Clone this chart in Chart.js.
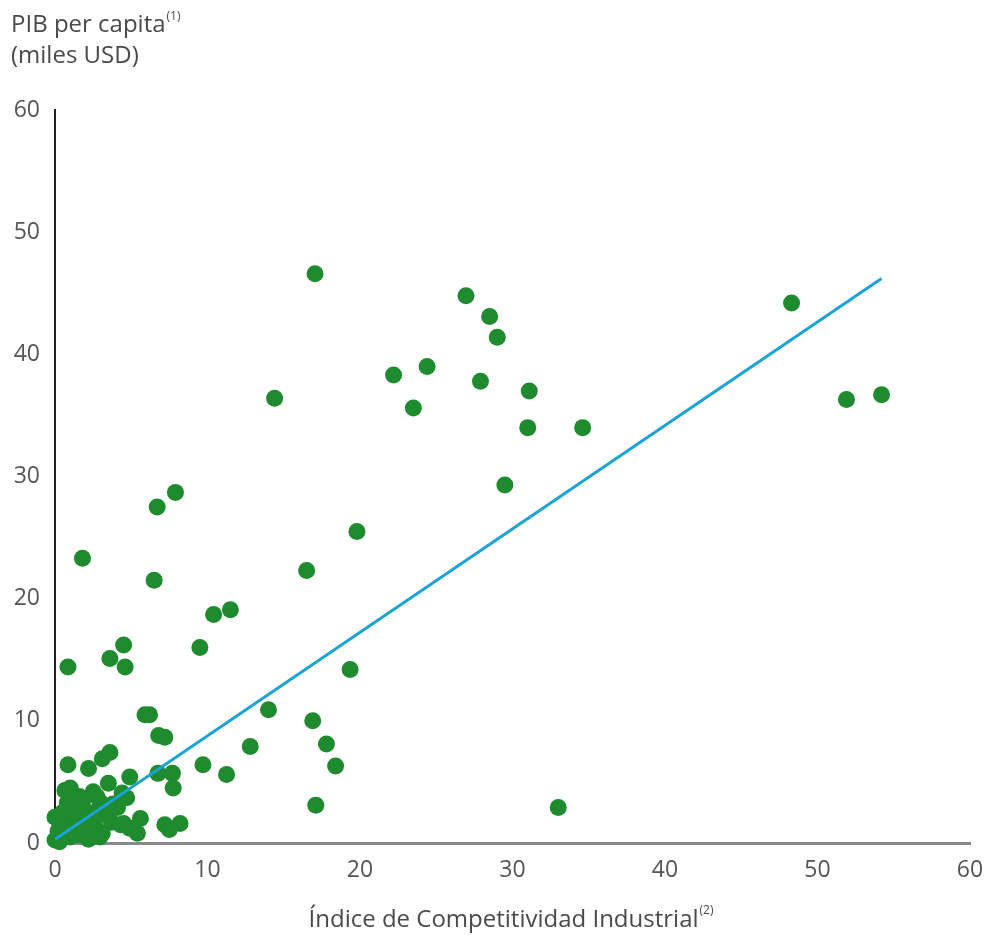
<!DOCTYPE html>
<html>
<head>
<meta charset="utf-8">
<script src="https://cdn.jsdelivr.net/npm/chart.js@4"></script>
<style>
  html, body { margin: 0; padding: 0; background: #ffffff; }
</style>
</head>
<body>
<canvas id="chart" width="990" height="941"></canvas>
<script>
// Índice de Competitividad Industrial (x) vs PIB per capita, miles USD (y)
const competitividad = [
    17.05, 26.95, 28.5, 29.0, 22.2, 24.4, 27.9, 23.5, 14.4, 31.1,
    31.0, 34.6, 29.5, 48.3, 51.9, 54.2, 33.0, 19.8, 16.5, 19.35,
    14.0, 16.9, 17.8, 18.4, 17.1, 12.8, 11.25, 9.7, 9.5, 10.4,
    11.5, 6.7, 7.9, 6.5, 1.8, 0.85, 3.6, 4.5, 4.6, 5.9,
    6.2, 6.8, 7.2, 6.75, 7.7, 7.75, 7.2, 8.2, 7.5, 5.6,
    5.4, 0.85, 2.2, 3.1, 3.6, 0.65, 1.0, 2.5, 3.5, 4.9,
    4.4, 4.7, 0.0, 0.8, 1.4, 1.8, 1.2, 1.8, 2.3, 2.8,
    3.4, 3.7, 4.3, 4.9, 4.5, 2.95, 0.3, 1.0, 1.6, 2.3,
    0.0, 0.3, 0.5, 4.1, 2.75, 1.6, 3.1, 2.0, 1.2, 0.2,
    0.5, 1.5, 2.0, 2.6, 3.0, 0.8, 1.3, 2.2, 3.8, 0.2
];
const pibPerCapita = [
    46.6, 44.8, 43.1, 41.4, 38.3, 39.0, 37.8, 35.6, 36.4, 37.0,
    34.0, 34.0, 29.3, 44.2, 36.3, 36.7, 2.9, 25.5, 22.3, 14.2,
    10.9, 10.0, 8.1, 6.3, 3.1, 7.9, 5.6, 6.4, 16.0, 18.7,
    19.1, 27.5, 28.7, 21.5, 23.3, 14.4, 15.1, 16.2, 14.4, 10.5,
    10.5, 8.8, 8.65, 5.7, 5.7, 4.5, 1.5, 1.6, 1.1, 2.0,
    0.8, 6.4, 6.1, 6.9, 7.4, 4.3, 4.5, 4.2, 4.9, 5.4,
    4.1, 3.7, 2.1, 3.3, 2.9, 3.3, 2.1, 1.9, 2.1, 2.7,
    2.3, 1.7, 1.5, 1.2, 1.6, 0.5, 1.1, 0.5, 0.65, 0.8,
    0.25, 0.1, 1.6, 2.9, 3.8, 3.8, 0.8, 1.2, 1.4, 0.6,
    2.5, 1.3, 2.6, 1.5, 3.3, 0.8, 3.6, 0.3, 3.2, 1.0
];
// linea de tendencia (inicio y fin)
const tendenciaX = [0, 54.2];
const tendenciaY = [0.3, 46.2];
const axisTicks = [0, 10, 20, 30, 40, 50, 60];

const FONT = "'Open Sans', 'Noto Sans', sans-serif";

// draws the two axis titles with their superscript notes
const titlesPlugin = {
    id: "titles",
    afterDraw(chart) {
        const ctx = chart.ctx;
        ctx.save();
        ctx.fillStyle = "#4a4a4a";
        ctx.textBaseline = "alphabetic";
        ctx.textAlign = "left";

        ctx.font = `24px ${FONT}`;
        ctx.fillText("PIB per capita", 11, 32);
        let w = ctx.measureText("PIB per capita").width;
        ctx.font = `12px ${FONT}`;
        ctx.fillText("(1)", 11 + w + 1, 20);
        ctx.font = `24px ${FONT}`;
        ctx.fillText("(miles USD)", 11, 63);

        // x title
        const main = "Índice de Competitividad Industrial";
        ctx.font = `24px ${FONT}`;
        w = ctx.measureText(main).width;
        ctx.font = `12px ${FONT}`;
        const sw = ctx.measureText("(2)").width;
        const left = 511 - (w + sw + 1) / 2;
        ctx.font = `24px ${FONT}`;
        ctx.fillText(main, left, 927);
        ctx.font = `12px ${FONT}`;
        ctx.fillText("(2)", left + w + 1, 914);
        ctx.restore();
    },
};

const tickFont = { family: FONT, size: 23 };

new Chart(document.getElementById("chart"), {
    type: "scatter",
    data: {
        datasets: [
            {
                type: "line",
                label: "Tendencia",
                data: tendenciaX.map((x, i) => ({ x: x, y: tendenciaY[i] })),
                borderColor: "#1ba3d8",
                borderWidth: 3,
                pointRadius: 0,
                fill: false,
                order: 0,
            },
            {
                label: "Países",
                data: competitividad.map((x, i) => ({ x: x, y: pibPerCapita[i] })),
                backgroundColor: "#1e8b2e",
                borderColor: "#1e8b2e",
                borderWidth: 0,
                pointRadius: 8.5,
                clip: false,
                order: 1,
            },
        ],
    },
    options: {
        responsive: false,
        animation: false,
        layout: {
            padding: { top: 110, right: 20, left: 0, bottom: 0 },
        },
        plugins: {
            legend: { display: false },
            tooltip: { enabled: false },
        },
        scales: {
            x: {
                type: "linear",
                min: 0,
                max: 60,
                afterFit: (scale) => {
                    scale.height = 98;
                    scale.paddingLeft = 0;
                    scale.paddingRight = 0;
                },
                afterBuildTicks: (scale) => { scale.ticks = axisTicks.map((v) => ({ value: v })); },
                ticks: { color: "#555555", font: tickFont, padding: 14 },
                grid: { display: false, drawTicks: false },
                border: { display: true, color: "#8a8a8a", width: 3 },
            },
            y: {
                type: "linear",
                min: 0,
                max: 60,
                afterFit: (scale) => {
                    scale.width = 55;
                    scale.paddingTop = 0;
                    scale.paddingBottom = 0;
                },
                afterBuildTicks: (scale) => { scale.ticks = axisTicks.map((v) => ({ value: v })); },
                ticks: { color: "#555555", font: tickFont, padding: 15 },
                grid: { display: false, drawTicks: false },
                border: { display: true, color: "#222222", width: 2 },
            },
        },
    },
    plugins: [titlesPlugin],
});
</script>
</body>
</html>
